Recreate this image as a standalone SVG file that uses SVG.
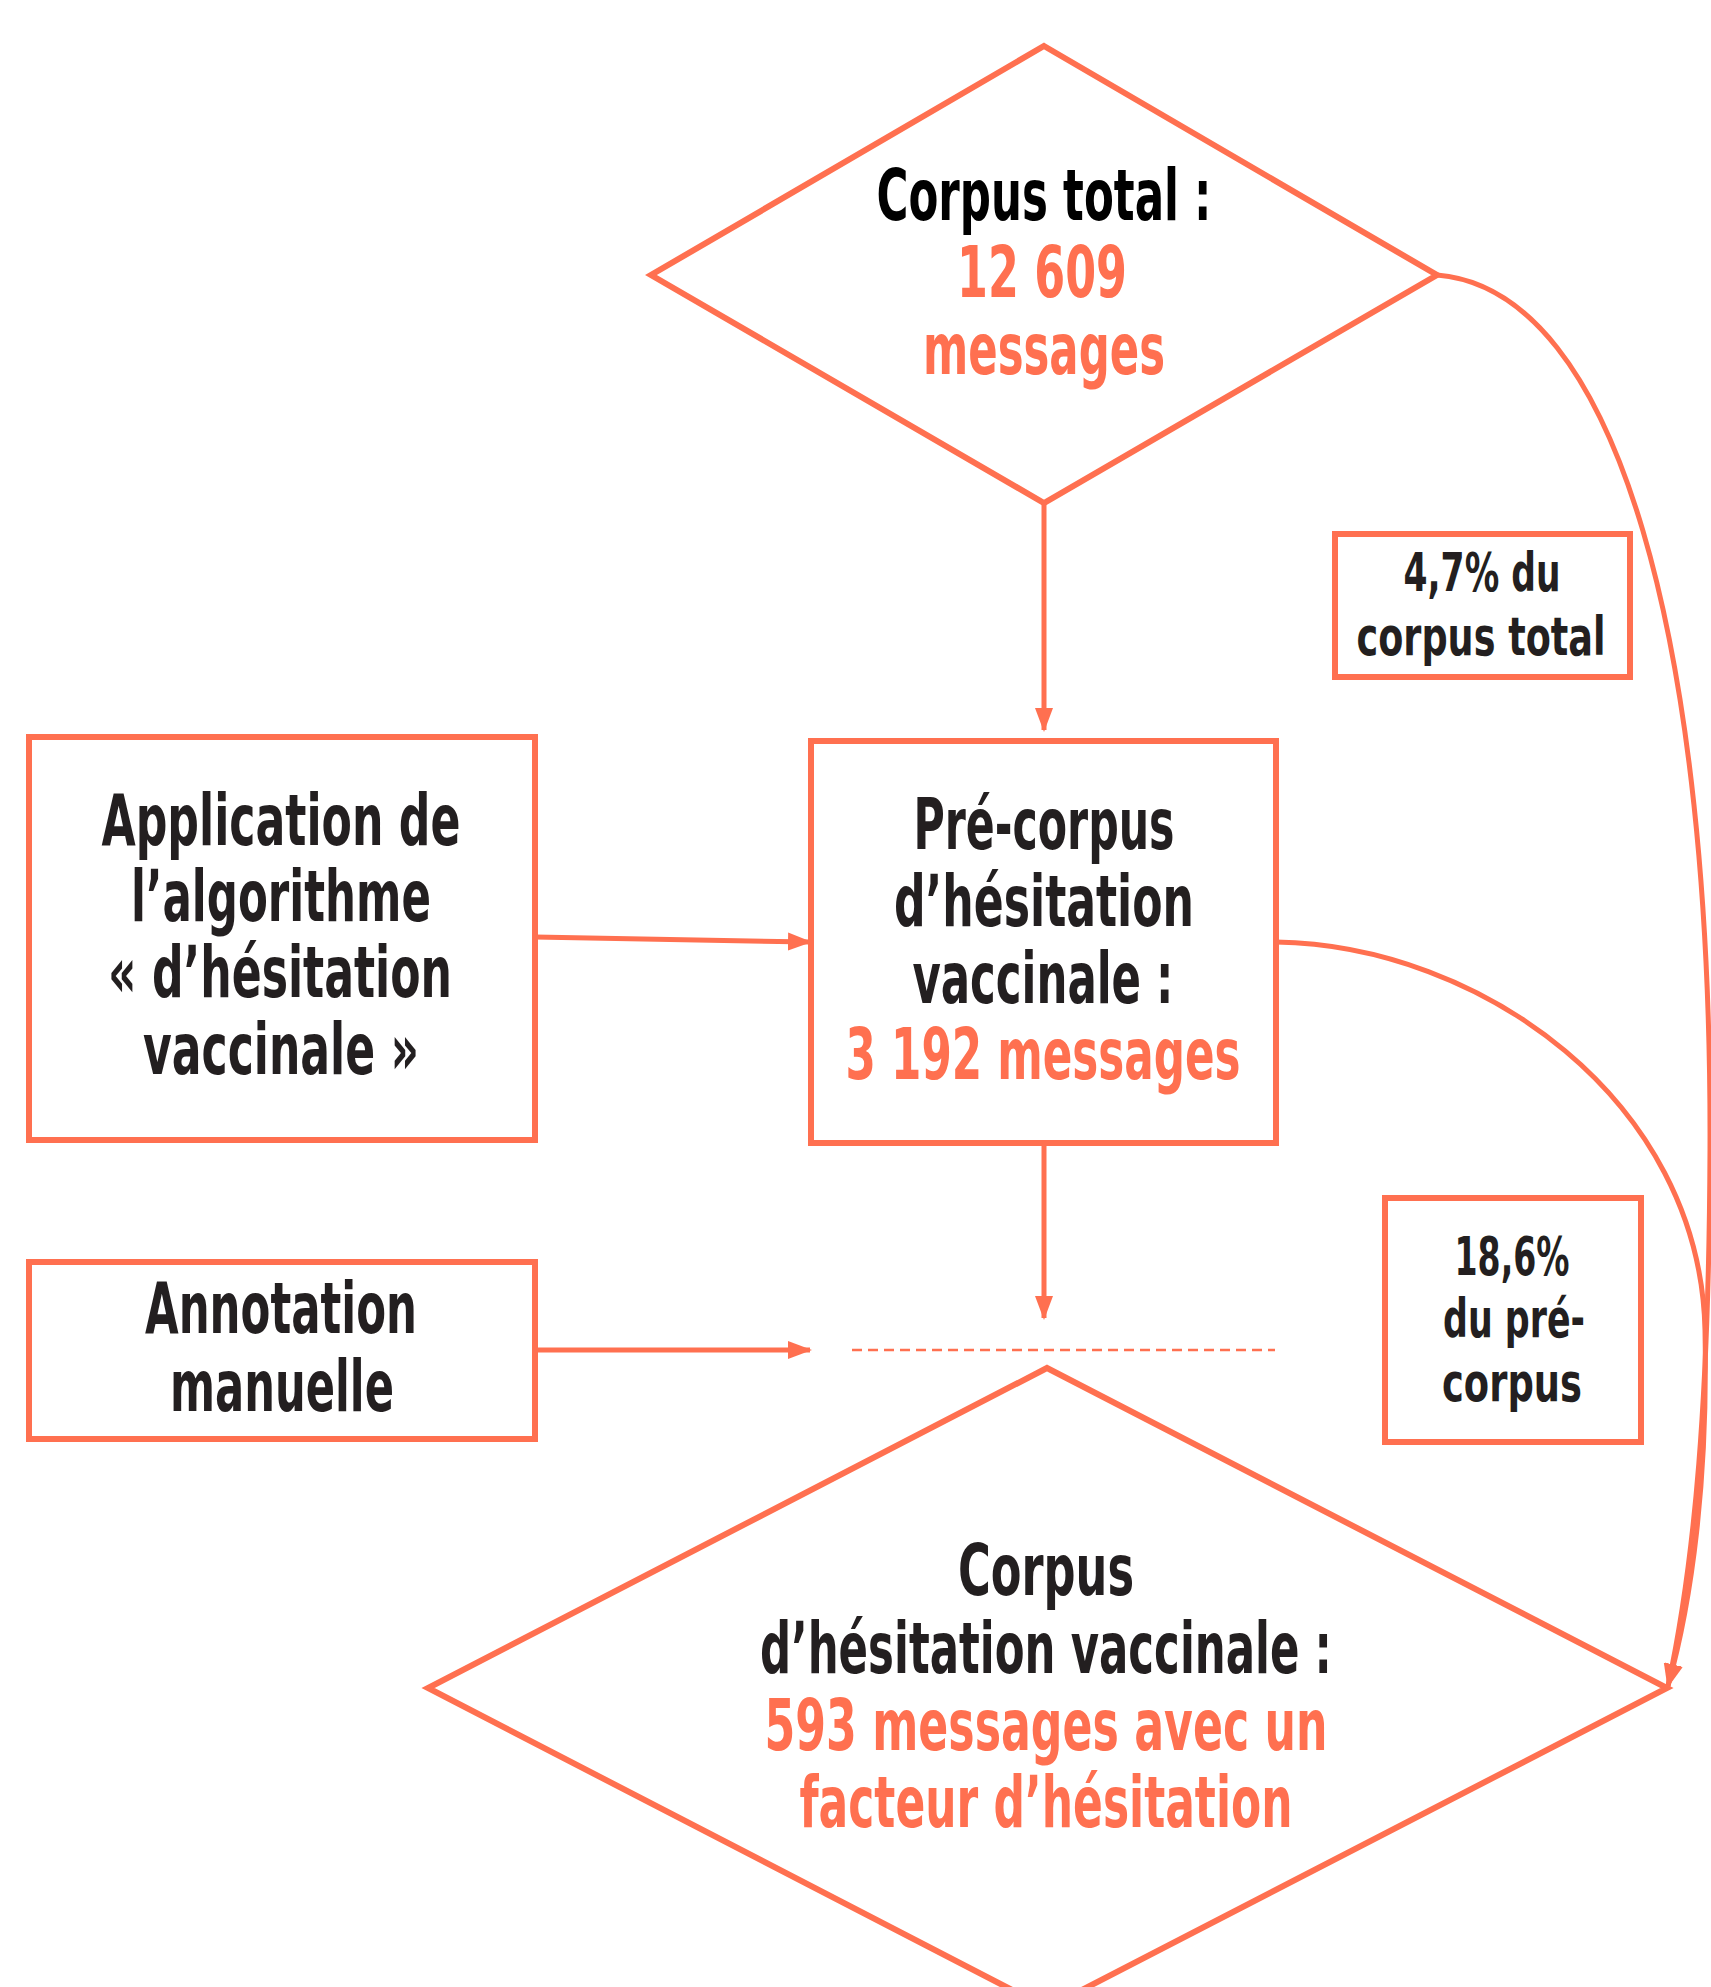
<svg xmlns="http://www.w3.org/2000/svg" width="1711" height="1987" viewBox="0 0 1711 1987">
<defs>
<style>
.shape{fill:#fff;stroke:#FF7050;stroke-width:6;stroke-linejoin:miter}
.line{fill:none;stroke:#FF7050;stroke-width:5}
.dash{fill:none;stroke:#FF7050;stroke-width:2.5;stroke-dasharray:10 6}
text{font-family:"DejaVu Sans Condensed","DejaVu Sans",sans-serif;font-stretch:condensed;font-weight:bold;text-anchor:middle}
.big{font-size:72px}
.small{font-size:54px}
.dk{fill:#231F20}
.bk{fill:#000}
.or{fill:#FF7050}
</style>
<marker id="arr" markerUnits="userSpaceOnUse" markerWidth="24" markerHeight="24" viewBox="0 0 24 24" refX="22" refY="12" orient="auto">
<path d="M0,3 L24,12 L0,21 Z" fill="#FF7050"/>
</marker>
</defs>
<rect width="1711" height="1987" fill="#fff"/>

<g id="connectors">
<line class="line" x1="1044" y1="503" x2="1044" y2="730" marker-end="url(#arr)"/>
<line class="line" x1="535" y1="937" x2="810" y2="942" marker-end="url(#arr)"/>
<line class="line" x1="1044" y1="1143" x2="1044" y2="1318" marker-end="url(#arr)"/>
<line class="line" x1="535" y1="1350" x2="810" y2="1350" marker-end="url(#arr)"/>
<line class="dash" x1="852" y1="1350" x2="1275" y2="1350"/>
<path class="line" d="M1437,275 C1620,290 1712,650 1710,1150 C1709,1400 1695,1560 1668,1686" marker-end="url(#arr)"/>
<path class="line" d="M1276,942 C1480,945 1700,1100 1705,1330 C1708,1480 1692,1600 1668,1686" marker-end="url(#arr)"/>
</g>

<g id="corpus-total">
<polygon class="shape" points="1044,46 1437,275 1044,503 651,275"/>
<text class="big bk" x="1044" y="220" textLength="335" lengthAdjust="spacingAndGlyphs">Corpus total :</text>
<text class="big or" x="1042" y="297" textLength="170" lengthAdjust="spacingAndGlyphs">12 609</text>
<text class="big or" x="1044" y="374" textLength="242" lengthAdjust="spacingAndGlyphs">messages</text>
</g>

<g id="pre-corpus">
<rect class="shape" x="811" y="741" width="465" height="402"/>
<text class="big dk" x="1044" y="849" textLength="261" lengthAdjust="spacingAndGlyphs">Pré-corpus</text>
<text class="big dk" x="1044" y="926" textLength="300" lengthAdjust="spacingAndGlyphs">d’hésitation</text>
<text class="big dk" x="1043" y="1003" textLength="261" lengthAdjust="spacingAndGlyphs">vaccinale :</text>
<text class="big or" x="1043" y="1079" textLength="395" lengthAdjust="spacingAndGlyphs">3 192 messages</text>
</g>

<g id="application">
<rect class="shape" x="29" y="737" width="506" height="403"/>
<text class="big dk" x="281" y="845" textLength="359" lengthAdjust="spacingAndGlyphs">Application de</text>
<text class="big dk" x="281" y="921" textLength="300" lengthAdjust="spacingAndGlyphs">l’algorithme</text>
<text class="big dk" x="280" y="997" textLength="344" lengthAdjust="spacingAndGlyphs">« d’hésitation</text>
<text class="big dk" x="281" y="1074" textLength="276" lengthAdjust="spacingAndGlyphs">vaccinale »</text>
</g>

<g id="annotation">
<rect class="shape" x="29" y="1262" width="506" height="177"/>
<text class="big dk" x="281" y="1333" textLength="272" lengthAdjust="spacingAndGlyphs">Annotation</text>
<text class="big dk" x="282" y="1411" textLength="224" lengthAdjust="spacingAndGlyphs">manuelle</text>
</g>

<g id="label-4-7">
<rect class="shape" x="1335" y="534" width="295" height="143"/>
<text class="small dk" x="1482" y="591" textLength="157" lengthAdjust="spacingAndGlyphs">4,7% du</text>
<text class="small dk" x="1481" y="655" textLength="249" lengthAdjust="spacingAndGlyphs">corpus total</text>
</g>

<g id="label-18-6">
<rect class="shape" x="1385" y="1198" width="256" height="244"/>
<text class="small dk" x="1512" y="1275" textLength="115" lengthAdjust="spacingAndGlyphs">18,6%</text>
<text class="small dk" x="1514" y="1337" textLength="142" lengthAdjust="spacingAndGlyphs">du pré-</text>
<text class="small dk" x="1512" y="1401" textLength="140" lengthAdjust="spacingAndGlyphs">corpus</text>
</g>

<g id="corpus-hesitation">
<polygon class="shape" points="1047,1368 1667,1688 1047,2008 428,1688"/>
<text class="big dk" x="1046" y="1595" textLength="176" lengthAdjust="spacingAndGlyphs">Corpus</text>
<text class="big dk" x="1046" y="1673" textLength="572" lengthAdjust="spacingAndGlyphs">d’hésitation vaccinale :</text>
<text class="big or" x="1046" y="1750" textLength="563" lengthAdjust="spacingAndGlyphs">593 messages avec un</text>
<text class="big or" x="1046" y="1827" textLength="493" lengthAdjust="spacingAndGlyphs">facteur d’hésitation</text>
</g>
</svg>
